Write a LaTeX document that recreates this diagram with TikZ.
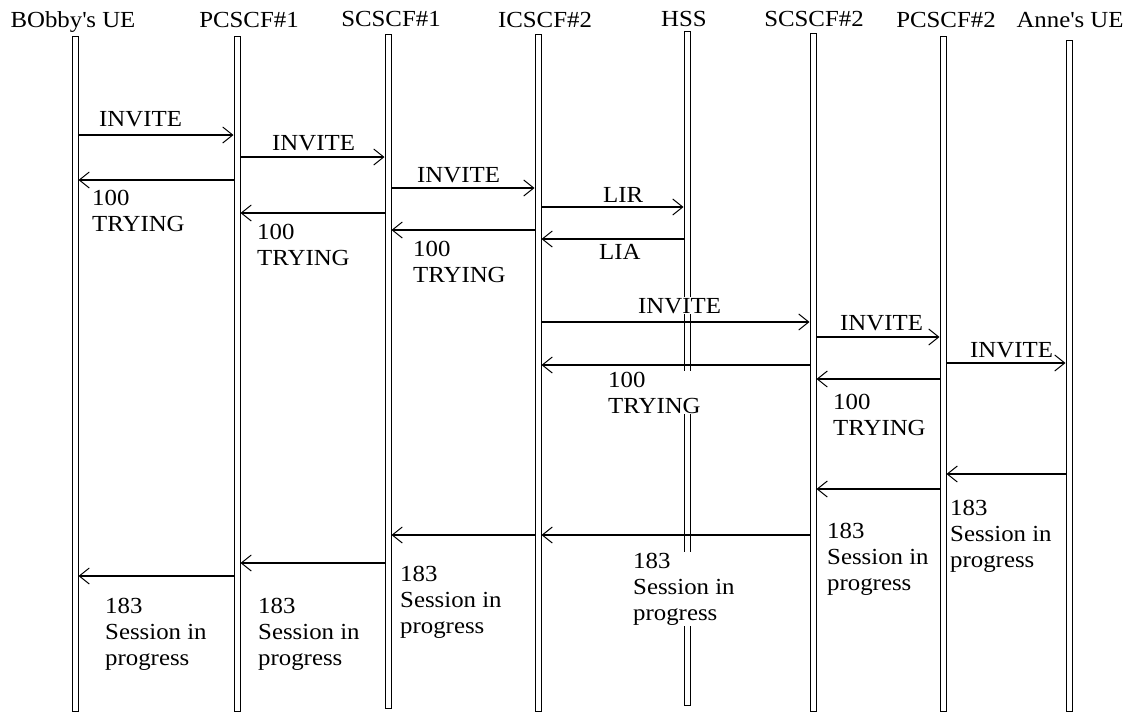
\documentclass[tikz,border=0pt]{standalone}
\usepackage{fontspec}
\setmainfont{Liberation Serif}[FakeStretch=1.08]
\usetikzlibrary{arrows.meta}
\tikzset{
  lifeline/.style={draw, line width=1pt, minimum width=6pt, inner sep=0pt},
  head/.style={anchor=base, inner sep=0pt, font=\fontsize{23}{26}\selectfont},
  lbl/.style={anchor=base west, align=left, fill=white, inner sep=1pt, font=\fontsize{23}{26}\selectfont},
  msgline/.style={draw, line width=1.2pt, -{Straight Barb[length=10pt,width=16pt,line width=1pt]}}
}
\newcommand\mright[3]{\draw[msgline] (#1.east |- 0,#3) -- (#2.west |- 0,#3);}
\newcommand\mleft[3]{\draw[msgline] (#1.west |- 0,#3) -- (#2.east |- 0,#3);}
\begin{document}
\begin{tikzpicture}[x=1pt,y=-1pt]
\useasboundingbox (0,0) rectangle (1131,713);
% headers
\node[head] (hbob) at (73,27) {BObby\textquotesingle s UE};
\node[head] (hpc1) at (249,27) {PCSCF\#1};
\node[head] (hsc1) at (391,26) {SCSCF\#1};
\node[head] (hic2) at (545,27) {ICSCF\#2};
\node[head] (hhss) at (684,26) {HSS};
\node[head] (hsc2) at (814,26) {SCSCF\#2};
\node[head] (hpc2) at (946,27) {PCSCF\#2};
\node[head] (hann) at (1070,27) {Anne\textquotesingle s UE};
% lifelines
\node[lifeline, minimum height=675pt] (bob) at (75,373.5) {};
\node[lifeline, minimum height=675pt] (pc1) at (237,373.5) {};
\node[lifeline, minimum height=674pt] (sc1) at (388,371) {};
\node[lifeline, minimum height=677pt] (ic2) at (538,372.5) {};
\node[lifeline, minimum height=674pt] (hss) at (687,368) {};
\node[lifeline, minimum height=678pt] (sc2) at (813,372) {};
\node[lifeline, minimum height=675pt] (pc2) at (943,373.5) {};
\node[lifeline, minimum height=671pt] (ann) at (1069,375.5) {};
% labels (anchored at the baseline of their last line)
\node[lbl] (t1) at (98,126) {INVITE};
\node[lbl] (t2) at (271,150) {INVITE};
\node[lbl] (t3) at (91,231) {100\\TRYING};
\node[lbl] (t4) at (416,182) {INVITE};
\node[lbl] (t5) at (256,265) {100\\TRYING};
\node[lbl] (t6) at (602,202) {LIR};
\node[lbl] (t7) at (412,282) {100\\TRYING};
\node[lbl] (t8) at (598,259) {LIA};
\node[lbl] (t9) at (637,313) {INVITE};
\node[lbl] (t10) at (839,330) {INVITE};
\node[lbl] (t11) at (969,357) {INVITE};
\node[lbl] (t12) at (607,413) {100\\TRYING};
\node[lbl] (t13) at (832,435) {100\\TRYING};
\node[lbl] (t14) at (949,567) {183\\Session in\\progress};
\node[lbl] (t15) at (826,590) {183\\Session in\\progress};
\node[lbl] (t16) at (632,620) {183\\Session in\\progress};
\node[lbl] (t17) at (399,633) {183\\Session in\\progress};
\node[lbl] (t18) at (257,665) {183\\Session in\\progress};
\node[lbl] (t19) at (104,665) {183\\Session in\\progress};
% messages
\mright{bob}{pc1}{135}
\mright{pc1}{sc1}{157}
\mleft{pc1}{bob}{180}
\mright{sc1}{ic2}{188}
\mleft{sc1}{pc1}{213}
\mright{ic2}{hss}{207}
\mleft{ic2}{sc1}{230}
\mleft{hss}{ic2}{239}
\mright{ic2}{sc2}{322}
\mright{sc2}{pc2}{337}
\mright{pc2}{ann}{363}
\mleft{sc2}{ic2}{365}
\mleft{pc2}{sc2}{379}
\mleft{ann}{pc2}{474}
\mleft{pc2}{sc2}{489}
\mleft{sc2}{ic2}{535}
\mleft{ic2}{sc1}{535}
\mleft{sc1}{pc1}{563}
\mleft{pc1}{bob}{576}
\end{tikzpicture}
\end{document}
